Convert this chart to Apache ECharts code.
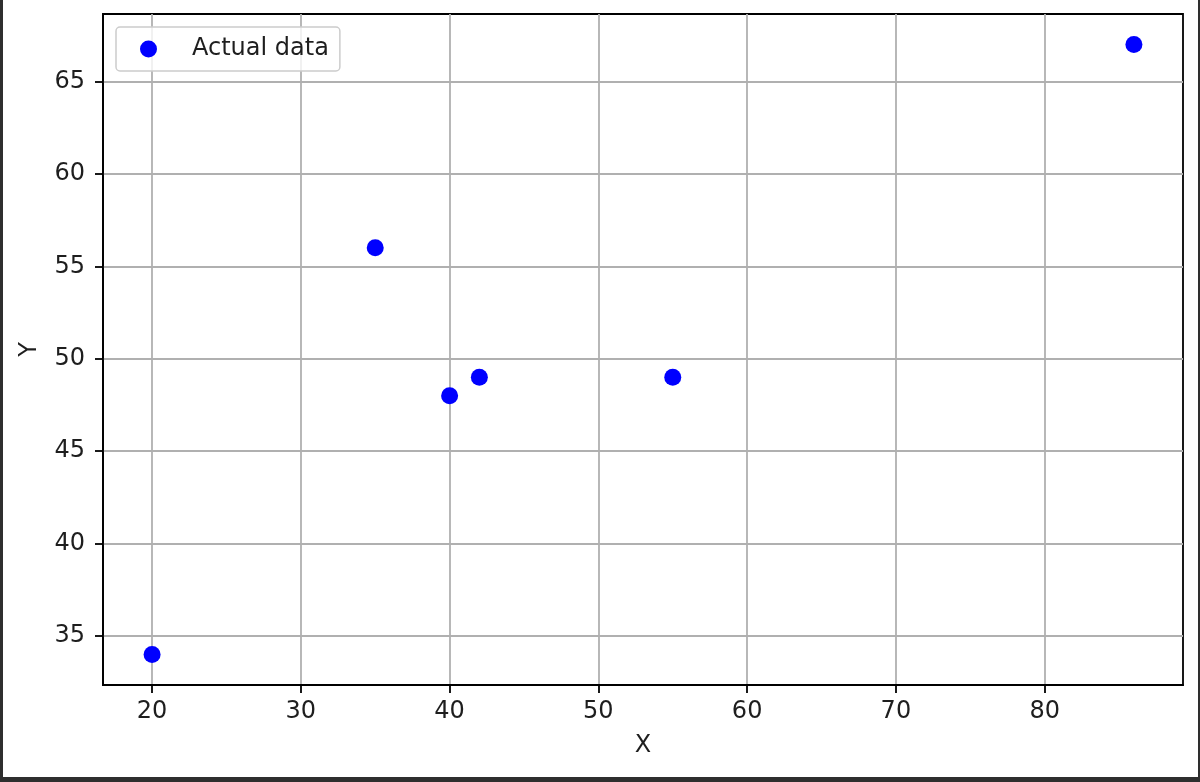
<!DOCTYPE html>
<html>
<head>
<meta charset="utf-8">
<title>Actual data</title>
<script src="https://cdn.jsdelivr.net/npm/echarts@6/dist/echarts.min.js"></script>
<style>
  html, body { margin: 0; padding: 0; background: #fff; }
  #wrap { position: relative; width: 1200px; height: 782px; }
  #main { width: 1200px; height: 782px; }
  #frame {
    position: absolute; left: 0; top: 0; width: 1200px; height: 782px;
    box-sizing: border-box; pointer-events: none;
    border-left: 3px solid #2e2e2e; border-right: 2px solid #2e2e2e; border-bottom: 5px solid #2e2e2e;
  }
</style>
</head>
<body>
<div id="wrap">
  <div id="main"></div>
  <div id="frame"></div>
</div>
<script>
// data
var xValues = [20, 35, 40, 42, 55, 86];
var yValues = [34, 56, 48, 49, 49, 67];
var xTicks = [20, 30, 40, 50, 60, 70, 80];
var yTicks = [35, 40, 45, 50, 55, 60, 65];
var seriesName = 'Actual data';

var points = xValues.map(function (x, i) { return [x, yValues[i]]; });

// 5% margins like matplotlib
var xPad = (Math.max.apply(null, xValues) - Math.min.apply(null, xValues)) * 0.05;
var yPad = (Math.max.apply(null, yValues) - Math.min.apply(null, yValues)) * 0.05;

const chart = echarts.init(document.getElementById('main'));

var font = 'DejaVu Sans';
var textColor = '#1e1e1e';

var axisCommon = {
  type: 'value',
  nameLocation: 'middle',
  nameTextStyle: { fontFamily: font, fontSize: 24, color: textColor },
  axisLine: { show: true, onZero: false, lineStyle: { color: '#000', width: 1.8 } },
  axisTick: { show: true, length: 8, lineStyle: { color: '#000', width: 1.8 } },
  splitLine: { show: true, lineStyle: { color: '#b0b0b0', width: 1.8 } }
};

chart.setOption({
  animation: false,
  backgroundColor: '#fff',
  grid: {
    left: 103, top: 14, right: 17, bottom: 97,
    show: true, borderColor: '#000', borderWidth: 1.8, backgroundColor: 'transparent'
  },
  legend: {
    left: 116, top: 27,
    data: [seriesName],
    icon: 'circle',
    itemWidth: 17, itemHeight: 17,
    padding: [10, 11, 10, 24],
    borderColor: '#cccccc', borderWidth: 1.5, borderRadius: 4,
    backgroundColor: 'rgba(255,255,255,0.8)',
    formatter: function (name) { return '{t|' + name + '}'; },
    textStyle: {
      fontFamily: font, fontSize: 24, color: textColor,
      rich: { t: { fontFamily: font, fontSize: 24, color: textColor, padding: [0, 0, 0, 30] } }
    }
  },
  xAxis: Object.assign({}, axisCommon, {
    name: 'X', nameGap: 49,
    min: 20 - xPad, max: 86 + xPad,
    axisTick: Object.assign({}, axisCommon.axisTick, { customValues: xTicks }),
    axisLabel: { customValues: xTicks, margin: 15, fontFamily: font, fontSize: 24, color: textColor }
  }),
  yAxis: Object.assign({}, axisCommon, {
    name: 'Y', nameGap: 61, nameRotate: 90,
    min: 34 - yPad, max: 67 + yPad,
    axisTick: Object.assign({}, axisCommon.axisTick, { customValues: yTicks }),
    axisLabel: { customValues: yTicks, margin: 18, fontFamily: font, fontSize: 24, color: textColor }
  }),
  series: [{
    name: seriesName,
    type: 'scatter',
    data: points,
    symbol: 'circle',
    symbolSize: 17,
    itemStyle: { color: '#0000ff', opacity: 1 }
  }]
});
</script>
</body>
</html>
